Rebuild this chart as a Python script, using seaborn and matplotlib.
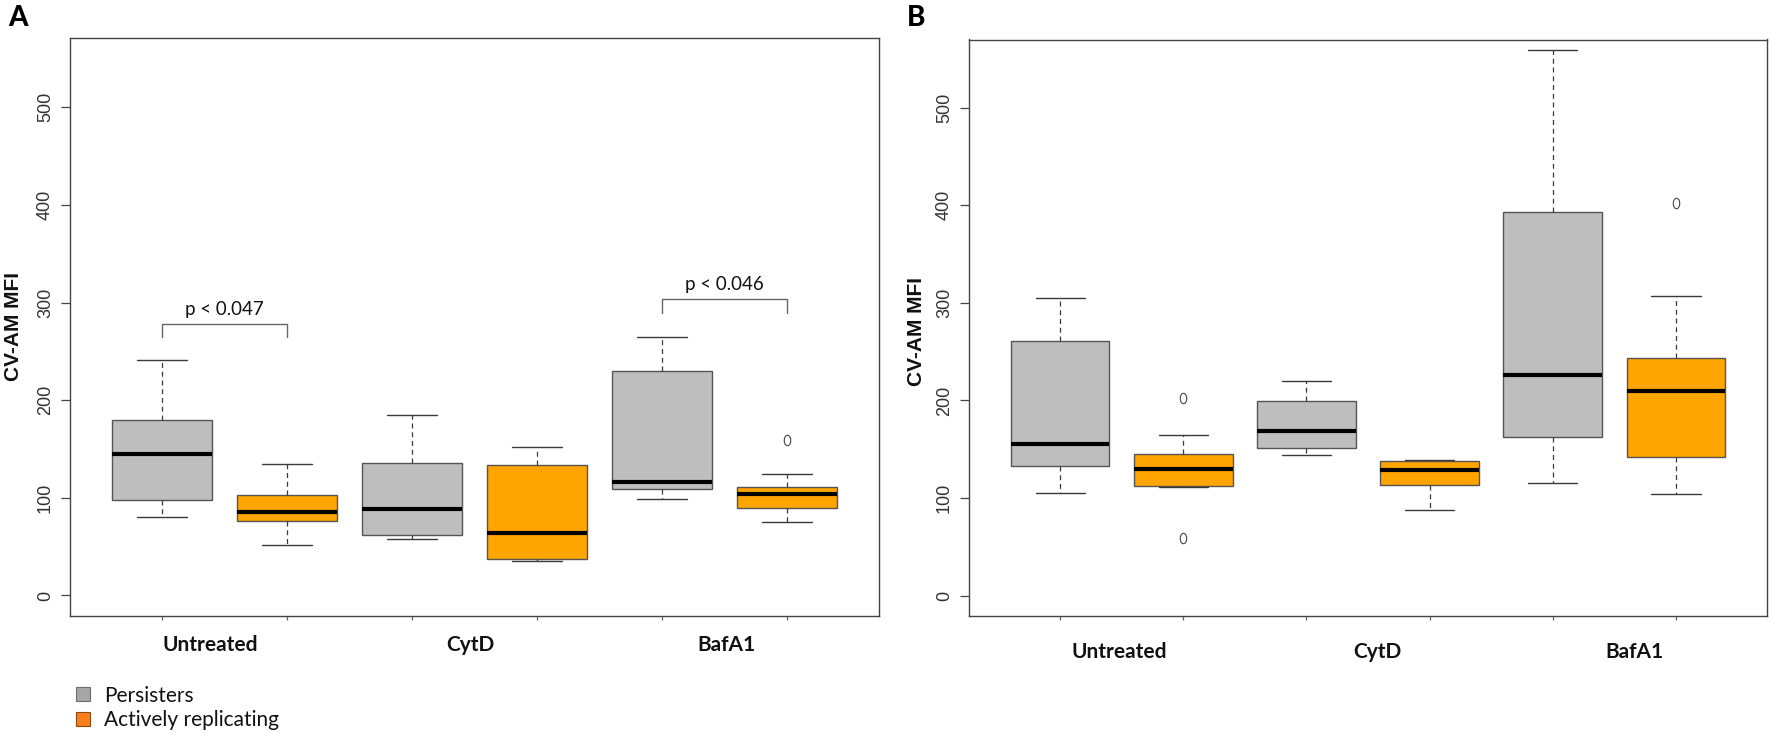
import numpy as np
import pandas as pd
import matplotlib
matplotlib.use("Agg")
import matplotlib.pyplot as plt
import matplotlib.transforms as mtransforms
from matplotlib.path import Path
from matplotlib.patches import Rectangle
import seaborn as sns

# ---------------- data ----------------
categories = ["Untreated", "CytD", "BafA1"]
groups = ["Persisters", "Actively replicating"]

# Panel A raw values (five-number summaries; extra points where outliers exist)
A_untreated_pers = [80.9, 97.7, 144.8, 179.6, 241.5]
A_untreated_act = [51.5, 76.2, 85.6, 102.9, 135.0]
A_cytd_pers = [57.8, 61.7, 88.4, 135.4, 184.4]
A_cytd_act = [35.1, 37.0, 64.1, 133.8, 151.8]
A_bafa1_pers = [99.3, 109.5, 116.6, 229.8, 265.0]
A_bafa1_act = [75.3, 84.0, 90.0, 97.0, 104.3, 108.0, 111.5, 124.0, 158.8]

# Panel B raw values
B_untreated_pers = [105.6, 133.0, 155.0, 261.1, 305.4]
B_untreated_act = [59.4, 111.5, 112.7, 121.0, 129.9, 137.0, 144.8, 164.4, 202.8]
B_cytd_pers = [143.6, 151.0, 168.3, 199.3, 220.4]
B_cytd_act = [87.6, 113.8, 129.0, 137.7, 138.5]
B_bafa1_pers = [115.4, 162.0, 226.3, 393.6, 559.7]
B_bafa1_act = [103.7, 125.0, 142.0, 180.0, 209.4, 225.0, 243.1, 307.4, 402.6]

# significance annotations for panel A
A_sig_labels = ["p < 0.047", "p < 0.046"]
A_sig_boxes = [(0, 1), (4, 5)]
A_sig_top = [278.4, 303.5]
A_sig_leg = [264.9, 289.8]
A_sig_text_y = [287.5, 313.0]

yticks = [0, 100, 200, 300, 400, 500]

# ---------------- build tidy tables ----------------
def build(panel_lists):
    rows = []
    for ci, cat in enumerate(categories):
        for gi, grp in enumerate(groups):
            for v in panel_lists[ci][gi]:
                rows.append({"box": f"{cat}|{grp}", "group": grp, "value": v})
    return pd.DataFrame(rows)

dfA = build([[A_untreated_pers, A_untreated_act],
             [A_cytd_pers, A_cytd_act],
             [A_bafa1_pers, A_bafa1_act]])
dfB = build([[B_untreated_pers, B_untreated_act],
             [B_cytd_pers, B_cytd_act],
             [B_bafa1_pers, B_bafa1_act]])
box_order = [f"{c}|{g}" for c in categories for g in groups]

# ---------------- style ----------------
sns.set_style("white")
plt.rcParams["font.family"] = ["Liberation Sans", "DejaVu Sans"]

GRAY = "#BEBEBE"
ORANGE = "#FFA500"
palette = {"Persisters": GRAY, "Actively replicating": ORANGE}
EDGE = "#555555"
LINE = "#3a3a3a"

ellipse = Path.unit_circle().transformed(mtransforms.Affine2D().scale(0.62, 1.0))

W, H = 1772, 736
fig = plt.figure(figsize=(W / 100, H / 100), dpi=100)

def px_rect(left, right, top, bottom):
    return [left / W, (H - bottom) / H, (right - left) / W, (bottom - top) / H]

axA = fig.add_axes(px_rect(70, 879, 37.5, 616))
axB = fig.add_axes(px_rect(969, 1767, 39.5, 616))

def draw(ax, df, ylim):
    sns.boxplot(
        data=df, x="box", y="value", hue="group", order=box_order,
        hue_order=groups, palette=palette, saturation=1, dodge=False, width=0.8,
        whis=1.5, linewidth=1.0, linecolor=EDGE, legend=False, ax=ax,
        boxprops=dict(edgecolor=EDGE, linewidth=1.0),
        medianprops=dict(color="black", linewidth=3.0, solid_capstyle="butt"),
        whiskerprops=dict(color=LINE, linewidth=0.9, linestyle=(0, (4, 3))),
        capprops=dict(color=LINE, linewidth=1.0),
        flierprops=dict(marker=ellipse, markersize=7.5, markerfacecolor="none",
                        markeredgecolor="#444444", markeredgewidth=0.8),
    )
    ax.set_xlim(-0.74, 5.74)
    ax.set_ylim(*ylim)
    ax.set_xlabel("")
    ax.set_ylabel("")
    ax.set_xticks(range(6))
    ax.set_xticklabels([])
    ax.set_yticks(yticks)
    ax.set_yticklabels([str(t) for t in yticks], rotation=90, va="center",
                       fontsize=13, color="#333333", family="Liberation Sans")
    ax.tick_params(axis="y", length=6.5, width=0.9, color="#444444", pad=5, left=True)
    ax.tick_params(axis="x", length=3, width=0.9, color="#666666", bottom=True)
    for s in ax.spines.values():
        s.set_visible(True)
        s.set_color("#444444")
        s.set_linewidth(1.0)

draw(axA, dfA, (-21, 571.5))
draw(axB, dfB, (-21, 570))

# significance brackets on panel A
for (b0, b1), top, leg, ty, lab in zip(A_sig_boxes, A_sig_top, A_sig_leg, A_sig_text_y, A_sig_labels):
    axA.plot([b0, b0, b1, b1], [leg, top, top, leg], color="#666666", lw=1.0)
    axA.text((b0 + b1) / 2, ty, lab, ha="center", va="baseline",
             fontsize=13.5, family=["Lato", "DejaVu Sans"], color="#111111")

# category labels
def cat_labels(ax, y_px, offsets):
    tr = mtransforms.blended_transform_factory(ax.transData, fig.transFigure)
    for i, cat in enumerate(categories):
        ax.text(2 * i + 0.5 + offsets[i], (H - y_px) / H, cat, transform=tr,
                ha="center", va="center", fontsize=15, fontweight="bold",
                family=["Lato", "DejaVu Sans"], color="#111111")

cat_labels(axA, 645, [-0.12, -0.03, 0.02])
cat_labels(axB, 652, [-0.02, 0.08, 0.16])

# y axis titles
fig.text(14 / W, (H - 327) / H, "CV-AM MFI", rotation=90, ha="center", va="center",
         fontsize=15, fontweight="bold", family="Liberation Sans", color="#111111")
fig.text(916 / W, (H - 331) / H, "CV-AM MFI", rotation=90, ha="center", va="center",
         fontsize=15, fontweight="bold", family="Liberation Sans", color="#111111")

# panel letters
fig.text(8 / W, 1 - 5 / H, "A", ha="left", va="top", fontsize=20, fontweight="black",
         family=["Lato", "DejaVu Sans"], color="black")
fig.text(907 / W, 1 - 5 / H, "B", ha="left", va="top", fontsize=20, fontweight="black",
         family=["Lato", "DejaVu Sans"], color="black")

# legend (manual, below panel A)
leg_colors = ["#A6A6A6", "#FA7D1E"]
leg_edges = ["#6e6e6e", "#8a4a10"]
leg_top = [687, 712]
leg_base = [702, 726]
for lab, c, ec, t, b in zip(groups, leg_colors, leg_edges, leg_top, leg_base):
    fig.add_artist(Rectangle((76 / W, (H - t - 14) / H), 14 / W, 14 / H,
                             transform=fig.transFigure, facecolor=c, edgecolor=ec, lw=0.8))
    fig.text(104 / W, (H - b) / H, lab, ha="left", va="baseline", fontsize=15,
             family=["Lato", "DejaVu Sans"], color="#111111")

fig.savefig("out.png", dpi=100)
